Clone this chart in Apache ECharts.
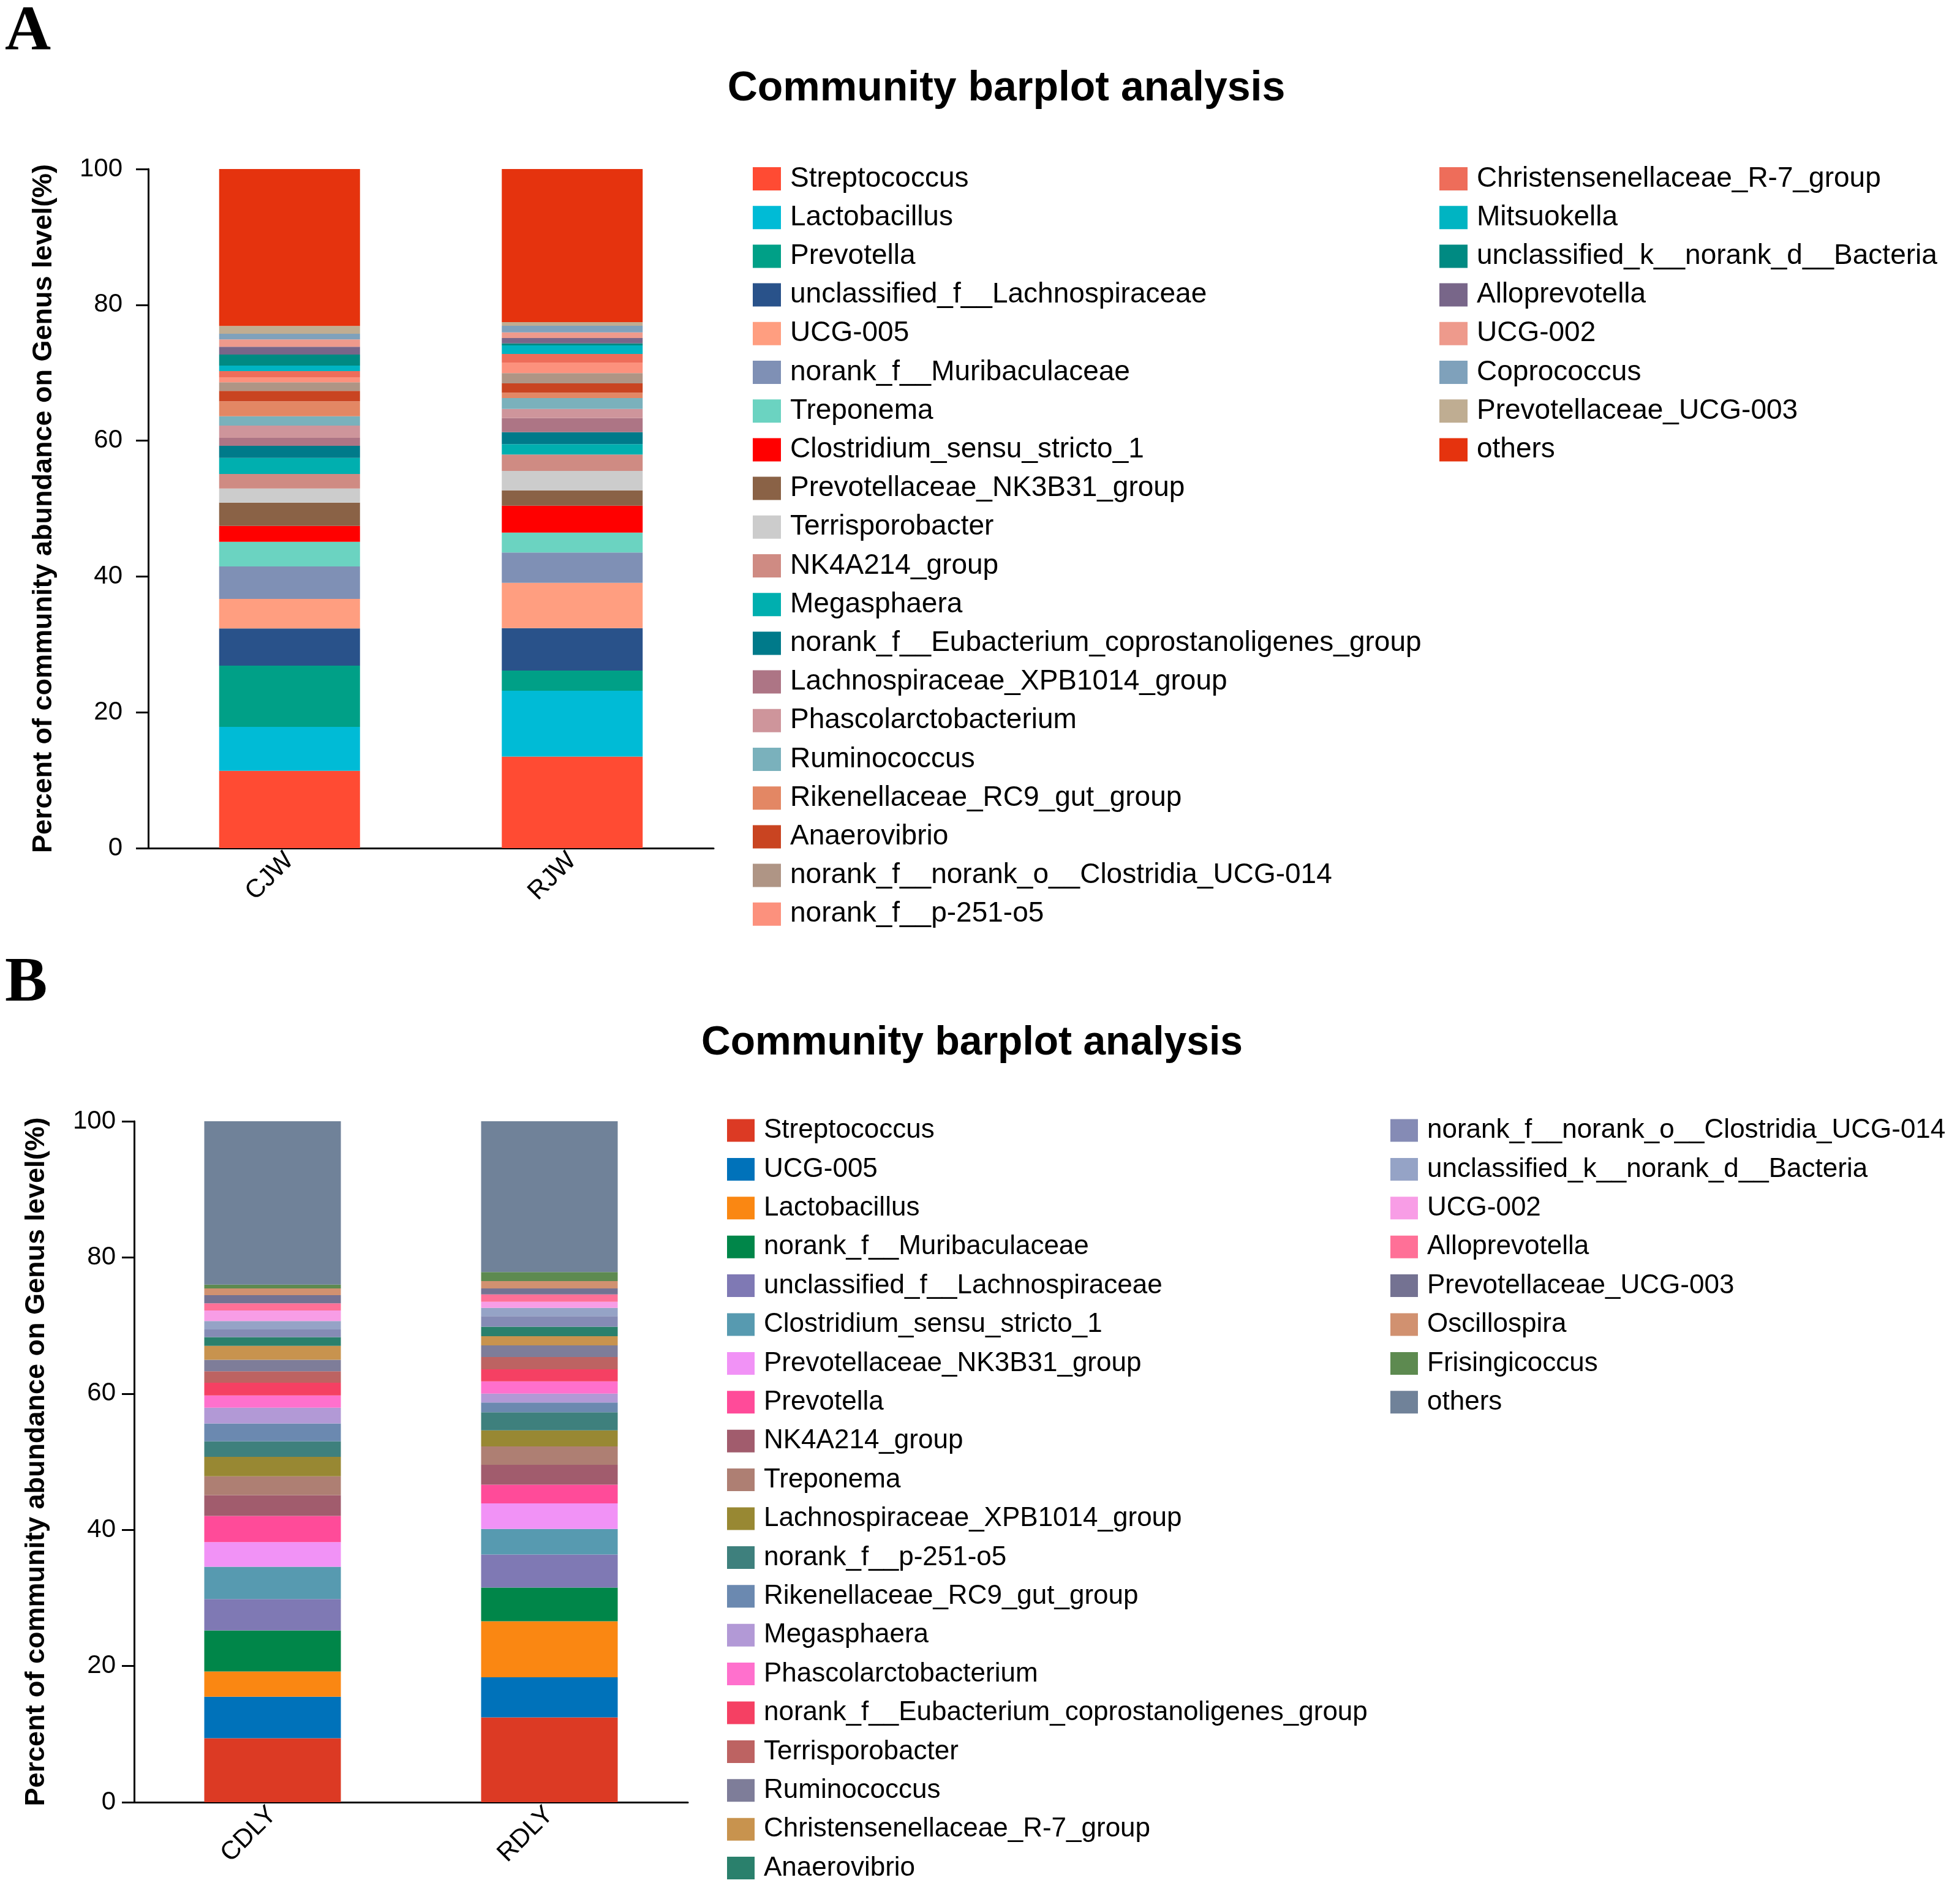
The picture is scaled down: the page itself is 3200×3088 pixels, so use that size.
<!DOCTYPE html>
<html>
<head>
<meta charset="utf-8">
<script src="https://cdn.jsdelivr.net/npm/echarts@6/dist/echarts.min.js"></script>
<style>
html,body{margin:0;padding:0;background:#fff;}
#a,#b{position:absolute;left:0;width:3200px;height:1544px;}
#a{top:0;}
#b{top:1544px;}
</style>
</head>
<body>
<div id="a"></div>
<div id="b"></div>
<script>
// ---------- Panel A data ----------
const samplesA = ['CJW', 'RJW'];
const genusA = [
  'Streptococcus', 'Lactobacillus', 'Prevotella', 'unclassified_f__Lachnospiraceae', 'UCG-005',
  'norank_f__Muribaculaceae', 'Treponema', 'Clostridium_sensu_stricto_1', 'Prevotellaceae_NK3B31_group',
  'Terrisporobacter', 'NK4A214_group', 'Megasphaera', 'norank_f__Eubacterium_coprostanoligenes_group',
  'Lachnospiraceae_XPB1014_group', 'Phascolarctobacterium', 'Ruminococcus', 'Rikenellaceae_RC9_gut_group',
  'Anaerovibrio', 'norank_f__norank_o__Clostridia_UCG-014', 'norank_f__p-251-o5',
  'Christensenellaceae_R-7_group', 'Mitsuokella', 'unclassified_k__norank_d__Bacteria', 'Alloprevotella',
  'UCG-002', 'Coprococcus', 'Prevotellaceae_UCG-003', 'others'
];
const valuesCJW = [11.38, 6.47, 9.02, 5.48, 4.35, 4.79, 3.62, 2.34, 3.42, 2.09, 2.13, 2.38, 1.77, 1.17,
  1.81, 1.38, 2.20, 1.53, 1.26, 0.75, 0.90, 0.81, 1.62, 1.15, 1.08, 0.84, 1.16, 23.10];
const valuesRJW = [13.47, 9.70, 2.98, 6.24, 6.68, 4.47, 2.93, 3.95, 2.26, 2.86, 2.41, 1.53, 1.77, 2.08,
  1.35, 1.60, 0.78, 1.38, 1.51, 1.56, 1.26, 1.26, 0.30, 0.78, 0.84, 0.97, 0.54, 22.54];
const paletteA = ['#FF4B33', '#00BBD6', '#00A087', '#29528A', '#FF9E80', '#7F90B5', '#6BD3C1', '#FF0000',
  '#8A6246', '#CCCCCC', '#CF8B83', '#00AFAF', '#007A8A', '#AD7585', '#CE959B', '#7AB1BC', '#E38764',
  '#C94421', '#AF9585', '#FC917D', '#EE6D5A', '#00B4C2', '#008A82', '#786689', '#EE9A8C', '#7FA1BB',
  '#BFAD92', '#E5330E'];

// ---------- Panel B data ----------
const samplesB = ['CDLY', 'RDLY'];
const genusB = [
  'Streptococcus', 'UCG-005', 'Lactobacillus', 'norank_f__Muribaculaceae', 'unclassified_f__Lachnospiraceae',
  'Clostridium_sensu_stricto_1', 'Prevotellaceae_NK3B31_group', 'Prevotella', 'NK4A214_group', 'Treponema',
  'Lachnospiraceae_XPB1014_group', 'norank_f__p-251-o5', 'Rikenellaceae_RC9_gut_group', 'Megasphaera',
  'Phascolarctobacterium', 'norank_f__Eubacterium_coprostanoligenes_group', 'Terrisporobacter', 'Ruminococcus',
  'Christensenellaceae_R-7_group', 'Anaerovibrio', 'norank_f__norank_o__Clostridia_UCG-014',
  'unclassified_k__norank_d__Bacteria', 'UCG-002', 'Alloprevotella', 'Prevotellaceae_UCG-003', 'Oscillospira',
  'Frisingicoccus', 'others'
];
const valuesCDLY = [9.40, 6.10, 3.69, 6.03, 4.61, 4.74, 3.62, 3.85, 3.05, 2.77, 2.85, 2.29, 2.61, 2.33,
  1.80, 1.85, 1.69, 1.70, 2.05, 1.26, 1.13, 1.23, 1.56, 1.05, 1.20, 0.99, 0.57, 23.98];
const valuesRDLY = [12.45, 5.90, 8.23, 4.95, 4.85, 3.74, 3.76, 2.74, 2.93, 2.69, 2.37, 2.65, 1.45, 1.30,
  1.80, 1.76, 1.80, 1.71, 1.35, 1.39, 1.55, 1.23, 0.90, 1.08, 0.87, 1.08, 1.32, 22.15];
const paletteB = ['#DC3A24', '#0072BA', '#FA8712', '#008649', '#7F79B4', '#579AB0', '#F192F6', '#FF4B99',
  '#A15C6D', '#AE7F73', '#988833', '#3E807D', '#6B89B0', '#B299D6', '#FF70CD', '#F54063', '#BD6362',
  '#7E7D99', '#C8934E', '#2A806C', '#858BB5', '#95A3C6', '#F89DE6', '#FF7097', '#747292', '#D19170',
  '#5D8A50', '#708299'];

const titleText = 'Community barplot analysis';
const yName = 'Percent of community abundance on Genus level(%)';
const yTicks = { min: 0, max: 100, interval: 20 };

const SANS = '"Liberation Sans", Arial, sans-serif';

function buildOption(cfg) {
  const series = cfg.genus.map((g, i) => ({
    name: g,
    type: 'bar',
    stack: 'total',
    barWidth: cfg.barWidth,
    itemStyle: { color: cfg.palette[i] },
    emphasis: { disabled: true },
    data: [cfg.v1[i], cfg.v2[i]]
  }));
  const legendCommon = {
    orient: 'vertical',
    padding: 0,
    itemWidth: cfg.iw,
    itemHeight: cfg.ih,
    itemGap: cfg.itemGap,
    icon: 'rect',
    selectedMode: false,
    textStyle: { fontFamily: SANS, fontSize: cfg.legFont, color: '#000', padding: [0, 0, 0, 10] }
  };
  return {
    animation: false,
    backgroundColor: '#fff',
    title: {
      text: titleText,
      left: cfg.titleX,
      top: cfg.titleTop,
      textAlign: 'center',
      textStyle: { fontFamily: SANS, fontWeight: 'bold', fontSize: cfg.titleFont, color: '#000' }
    },
    graphic: [{
      type: 'text',
      left: cfg.letterX,
      top: cfg.letterTop,
      style: { text: cfg.letter, font: 'bold 104px "Liberation Serif", "Times New Roman", serif', fill: '#000' }
    }],
    legend: [
      Object.assign({}, legendCommon, { left: cfg.leg1X, top: cfg.legTop, data: cfg.genus.slice(0, 20) }),
      Object.assign({}, legendCommon, { left: cfg.leg2X, top: cfg.legTop, data: cfg.genus.slice(20) })
    ],
    grid: { left: cfg.gridLeft, width: cfg.gridWidth, top: cfg.gridTop, height: cfg.gridHeight },
    xAxis: {
      type: 'category',
      data: cfg.samples,
      axisLine: { lineStyle: { color: '#000', width: 3 } },
      axisTick: { alignWithLabel: true, length: 16, lineStyle: { color: '#000', width: 3 } },
      axisLabel: { rotate: 45, fontFamily: SANS, fontSize: 42, color: '#000', margin: 14 }
    },
    yAxis: {
      type: 'value',
      min: yTicks.min, max: yTicks.max, interval: yTicks.interval,
      name: yName,
      nameLocation: 'middle',
      nameGap: cfg.nameGap,
      nameTextStyle: { fontFamily: SANS, fontWeight: 'bold', fontSize: 45, color: '#000' },
      axisLine: { show: true, lineStyle: { color: '#000', width: 3 } },
      axisTick: { show: true, length: 20, lineStyle: { color: '#000', width: 3 } },
      axisLabel: { fontFamily: SANS, fontSize: 42, color: '#000', margin: cfg.labelMargin },
      splitLine: { show: false }
    },
    series: series
  };
}

const chartA = echarts.init(document.getElementById('a'), null, { renderer: 'canvas' });
chartA.setOption(buildOption({
  letter: 'A', letterX: 8, letterTop: 2,
  titleX: 1638, titleTop: 106, titleFont: 68,
  samples: samplesA, genus: genusA, palette: paletteA, v1: valuesCJW, v2: valuesRJW,
  gridLeft: 242, gridWidth: 923, gridTop: 276, gridHeight: 1109,
  barWidth: 230, nameGap: 148, labelMargin: 42,
  iw: 46, ih: 38, itemGap: 17.2, leg1X: 1229, leg2X: 2350, legTop: 269, legFont: 46
}));

const chartB = echarts.init(document.getElementById('b'), null, { renderer: 'canvas' });
chartB.setOption(buildOption({
  letter: 'B', letterX: 8, letterTop: 11,
  titleX: 1582, titleTop: 122, titleFont: 66,
  samples: samplesB, genus: genusB, palette: paletteB, v1: valuesCDLY, v2: valuesRDLY,
  gridLeft: 219, gridWidth: 904, gridTop: 287, gridHeight: 1112,
  barWidth: 223, nameGap: 137, labelMargin: 30,
  iw: 45, ih: 37, itemGap: 19.4, leg1X: 1187, leg2X: 2270, legTop: 280, legFont: 44
}));
</script>
</body>
</html>
